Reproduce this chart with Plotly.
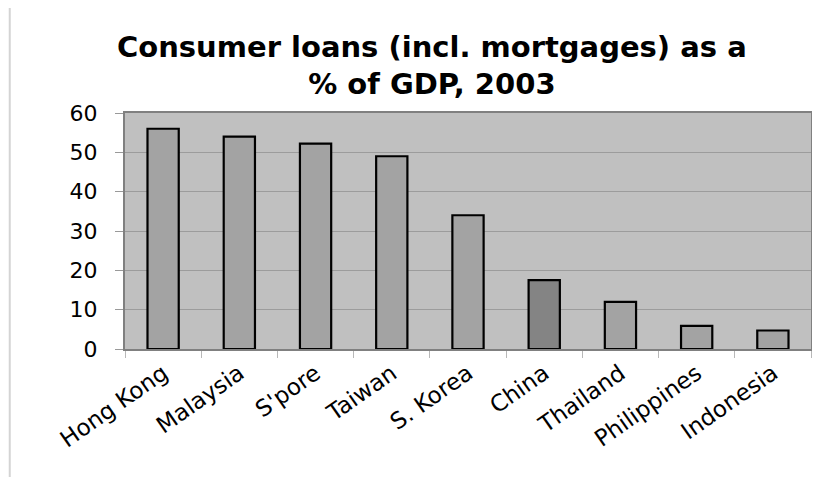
import plotly.graph_objects as go

categories = ["Hong Kong", "Malaysia", "S'pore", "Taiwan", "S. Korea",
              "China", "Thailand", "Philippines", "Indonesia"]
values = [56, 54, 52.2, 49, 34, 17.5, 12, 5.9, 4.7]
bar_colors = ["#a3a3a3"] * 5 + ["#848484"] + ["#a3a3a3"] * 3
y_ticks = [0, 10, 20, 30, 40, 50, 60]

fig = go.Figure(go.Bar(
    x=categories, y=values,
    marker=dict(color=bar_colors, line=dict(color="#000000", width=2.2)),
    width=0.41,
))

fig.update_layout(
    width=812, height=469,
    margin=dict(l=117, r=7, t=105, b=128),
    paper_bgcolor="white",
    plot_bgcolor="#c0c0c0",
    showlegend=False,
    font=dict(family="DejaVu Sans, Arial, sans-serif", color="black"),
    title=dict(
        text="<b>Consumer loans (incl. mortgages) as a<br>% of GDP, 2003</b>",
        x=0.522, xanchor="center", xref="container",
        y=0.896, yanchor="middle", yref="container",
        font=dict(size=29, family="DejaVu Sans, Arial, sans-serif", color="black"),
    ),
    shapes=[
        dict(type="line", xref="paper", yref="paper", x0=-0.168, x1=-0.168,
             y0=-0.6, y1=1.6, line=dict(color="#d4d4d4", width=2), layer="above"),
    ],
)

fig.update_xaxes(
    type="category",
    tickangle=-35,
    tickfont=dict(size=23),
    ticks="outside", tickson="boundaries", ticklen=7,
    tickcolor="#b8b8b8", tickwidth=1,
    showline=True, linecolor="#808080", linewidth=2, mirror=True,
    showgrid=False,
)
fig.update_yaxes(
    range=[0, 60],
    tickvals=y_ticks,
    tickfont=dict(size=22),
    ticks="outside", ticklen=8, tickcolor="#999999", tickwidth=1,
    ticklabelstandoff=13,
    showline=True, linecolor="#808080", linewidth=2, mirror=True,
    showgrid=True, gridcolor="#9c9c9c", gridwidth=1,
    zeroline=False,
)

fig.write_html("out.html")
